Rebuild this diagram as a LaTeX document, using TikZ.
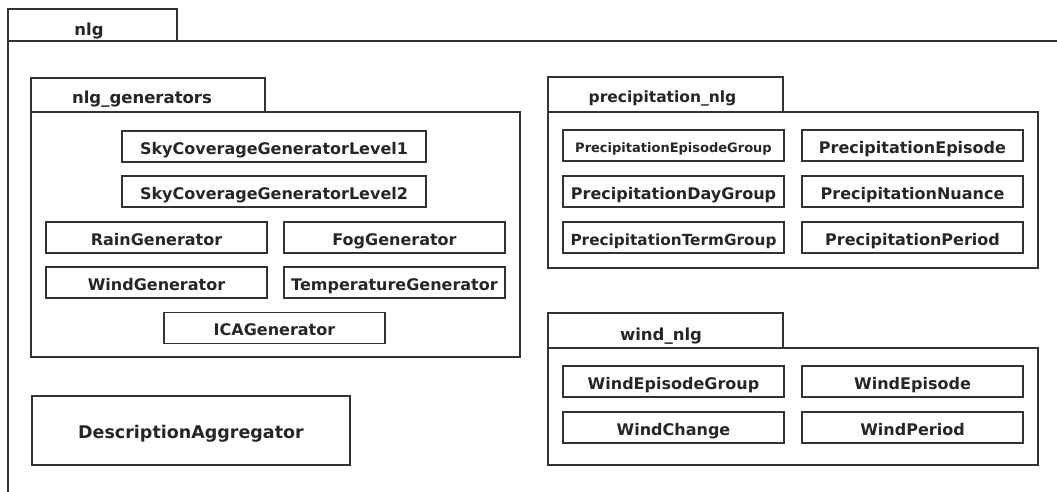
\documentclass[tikz,border=0pt]{standalone}
\usepackage{fontspec}
\setmainfont{DejaVu Sans}
\tikzset{
  x=1pt, y=-1pt,
  ln/.style={draw=black!80, line width=1.1pt},
  box/.style={ln, rectangle, inner sep=0pt, minimum height=31pt, minimum width=221pt, text height=15.5pt, text depth=0pt, font=\bfseries\fontsize{16}{18}\selectfont, text=black!85},
  fs/.style={font=\bfseries\fontsize{#1}{#1}\selectfont},
  tab/.style={ln, rectangle, inner sep=0pt},
  title/.style={anchor=base, inner sep=0pt, font=\bfseries\fontsize{16.5}{18}\selectfont, text=black!85},
}
\begin{document}
\begin{tikzpicture}
\useasboundingbox (0,0) rectangle (1057,492);
% outer package nlg
\node[tab, minimum width=169pt, minimum height=32pt] (nlgtab) at (92.5,25) {};
\node[title] (nlgtitle) at (89,36) {nlg};
\coordinate (nlgbl) at (8,492);
\coordinate (nlgtr) at (1057,41);
\draw[ln] (nlgbl) |- (nlgtr);
% nlg_generators
\node[tab, minimum width=234pt, minimum height=34pt] (gentab) at (148,95) {};
\node[title] (gentitle) at (142,104) {nlg\_generators};
\node[tab, minimum width=489pt, minimum height=245pt] (genbody) at (275.5,234.5) {};
\node[box, minimum width=304pt] (sky1) at (274,146.5) {SkyCoverageGeneratorLevel1};
\node[box, minimum width=304pt] (sky2) at (274,191.5) {SkyCoverageGeneratorLevel2};
\node[box] (rain) at (156.5,237.5) {RainGenerator};
\node[box] (fog) at (394.5,237.5) {FogGenerator};
\node[box] (windg) at (156.5,282.5) {WindGenerator};
\node[box] (temp) at (394.5,282.5) {TemperatureGenerator};
\node[box] (ica) at (274.5,328) {ICAGenerator};
% precipitation_nlg
\node[tab, minimum width=235pt, minimum height=35pt] (prtab) at (665.5,94.5) {};
\node[title, fs=15.5] (prtitle) at (662.5,103) {precipitation\_nlg};
\node[tab, minimum width=490pt, minimum height=156pt] (prbody) at (793,190) {};
\node[box, fs=13, text height=13pt] (peg) at (673.5,145.5) {PrecipitationEpisodeGroup};
\node[box] (pe) at (912.5,145.5) {PrecipitationEpisode};
\node[box] (pdg) at (673.5,191.5) {PrecipitationDayGroup};
\node[box] (pn) at (912.5,191.5) {PrecipitationNuance};
\node[box, fs=15.3] (ptg) at (673.5,237.5) {PrecipitationTermGroup};
\node[box] (pp) at (912.5,237.5) {PrecipitationPeriod};
% wind_nlg
\node[tab, minimum width=235pt, minimum height=35pt] (wtab) at (665.5,330.5) {};
\node[title] (wtitle) at (661,340) {wind\_nlg};
\node[tab, minimum width=490pt, minimum height=117pt] (wbody) at (793,406.5) {};
\node[box] (weg) at (673.5,381.5) {WindEpisodeGroup};
\node[box] (we) at (912.5,381.5) {WindEpisode};
\node[box] (wc) at (673.5,427.5) {WindChange};
\node[box] (wp) at (912.5,427.5) {WindPeriod};
% DescriptionAggregator
\node[box, fs=17.5, minimum width=318pt, minimum height=69pt] (desc) at (191,430.5) {DescriptionAggregator};
\end{tikzpicture}
\end{document}
